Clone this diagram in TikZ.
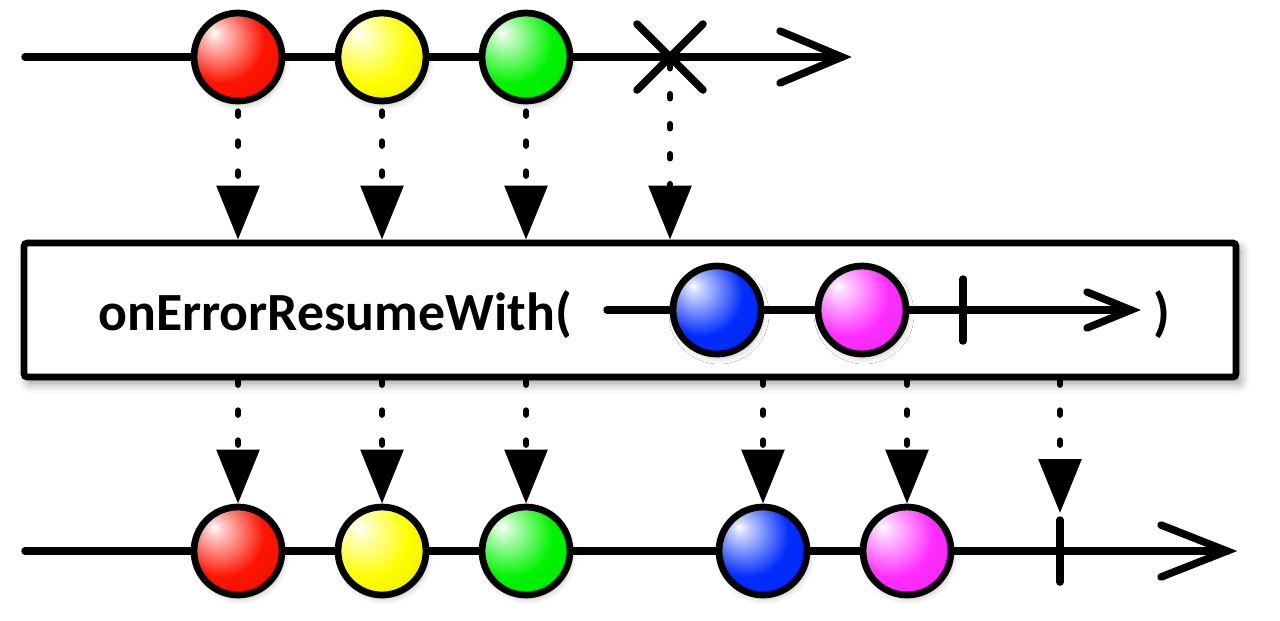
\documentclass[tikz,border=0pt]{standalone}
\usepackage{fontspec}
\setmainfont{Carlito}
\usetikzlibrary{arrows.meta,calc,shadows.blur}
\pgfdeclarelayer{bg}
\pgfsetlayers{bg,main}
\definecolor{mred}{RGB}{255,20,0}
\definecolor{myellow}{RGB}{255,255,0}
\definecolor{mgreen}{RGB}{0,245,0}
\definecolor{mblue}{RGB}{0,45,255}
\definecolor{mmagenta}{RGB}{255,45,255}
\colorlet{mcol}{red}
\pgfdeclareradialshading[mcol]{marbleball}{\pgfqpoint{-14bp}{14bp}}{%
  color(0bp)=(white); color(4bp)=(mcol!20!white); color(24bp)=(mcol);
  color(40bp)=(mcol!92!black); color(58bp)=(mcol!60!black); color(70bp)=(mcol!50!black)}
\tikzset{
  marblecolor/.code={\colorlet{mcol}{#1}},
  marble/.style={circle, draw=black, line width=0.135cm, minimum size=1.76cm, inner sep=0pt,
    marblecolor=#1, shade, shading=marbleball,
    blur shadow={shadow xshift=0.04cm, shadow yshift=-0.08cm, shadow blur radius=0.12cm, shadow opacity=25}},
  timeline/.style={line width=0.15cm, line cap=round},
  chev/.style={line width=0.15cm, line cap=round, line join=miter},
  tickmark/.style={line width=0.15cm, line cap=round},
  dotarrow/.style={line width=0.12cm, line cap=round, dash pattern=on 0.09cm off 0.51cm,
    -{Triangle[length=1.08cm, width=0.84cm]}},
  opbox/.style={draw=black, fill=white, line width=0.135cm, rounded corners=0.06cm,
    minimum width=24.24cm, minimum height=2.68cm, inner sep=0pt,
    blur shadow={shadow xshift=0.08cm, shadow yshift=-0.12cm, shadow blur radius=0.2cm, shadow opacity=45}},
  optext/.style={font=\bfseries\fontsize{30.6pt}{36pt}\selectfont, inner sep=0pt}
}
\begin{document}
\begin{tikzpicture}[x=0.02cm,y=-0.02cm]
\useasboundingbox (0,0) rectangle (1280,620);
% box
\node[opbox] (box) at (630,310) {};
\node[optext, anchor=base west] (lbl) at (98,330) {onErrorResumeWith(};
\node[optext, anchor=base] (cp) at (1162,330) {)};
% inner row
\coordinate (istart) at (607,310);
\coordinate (itip) at (1131,310);
\coordinate (idone) at (963,310);
\draw[timeline] (istart) -- (itip);
\draw[chev] ($(itip)+(-44,-18)$) -- (itip) -- ($(itip)+(-44,18)$);
\draw[tickmark] ($(idone)+(0,-31)$) -- ($(idone)+(0,31)$);
\node[marble=mblue] (b1) at (717,310) {};
\node[marble=mmagenta] (m1) at (862,310) {};
% top row
\coordinate (tstart) at (25,57);
\coordinate (ttip) at (842,57);
\coordinate (err) at (670,57);
\node[marble=mred] (r1) at (238,57) {};
\node[marble=myellow] (y1) at (382,57) {};
\node[marble=mgreen] (g1) at (526,57) {};
% bottom row
\coordinate (bstart) at (25,551);
\coordinate (btip) at (1227,551);
\coordinate (bdone) at (1060,551);
\node[marble=mred] (r2) at (238,551) {};
\node[marble=myellow] (y2) at (382,551) {};
\node[marble=mgreen] (g2) at (526,551) {};
\node[marble=mblue] (b2) at (763,551) {};
\node[marble=mmagenta] (m2) at (907,551) {};
\coordinate (bdonetop) at (1060,513);
\begin{pgfonlayer}{bg}
  % timelines
  \draw[timeline] (tstart) -- (ttip);
  \draw[chev] ($(ttip)+(-62,-26)$) -- (ttip) -- ($(ttip)+(-62,26)$);
  \draw[timeline] (bstart) -- (btip);
  \draw[chev] ($(btip)+(-66,-26)$) -- (btip) -- ($(btip)+(-66,26)$);
  % error X
  \draw[tickmark] ($(err)+(-33,-33)$) -- ($(err)+(33,33)$);
  \draw[tickmark] ($(err)+(-33,33)$) -- ($(err)+(33,-33)$);
  % completion tick
  \draw[tickmark] ($(bdone)+(0,-31)$) -- ($(bdone)+(0,31)$);
  % upper dotted arrows
  \foreach \s in {r1,y1,g1,err}
    \draw[dotarrow, dash phase=0.46cm] (\s) -- (\s |- box.north);
  % lower dotted arrows
  \draw[dotarrow] (r1 |- box.south) -- (r2);
  \draw[dotarrow] (y1 |- box.south) -- (y2);
  \draw[dotarrow] (g1 |- box.south) -- (g2);
  \draw[dotarrow] (b2 |- box.south) -- (b2);
  \draw[dotarrow] (m2 |- box.south) -- (m2);
  \draw[dotarrow] (bdone |- box.south) -- (bdonetop);
\end{pgfonlayer}
\end{tikzpicture}
\end{document}
